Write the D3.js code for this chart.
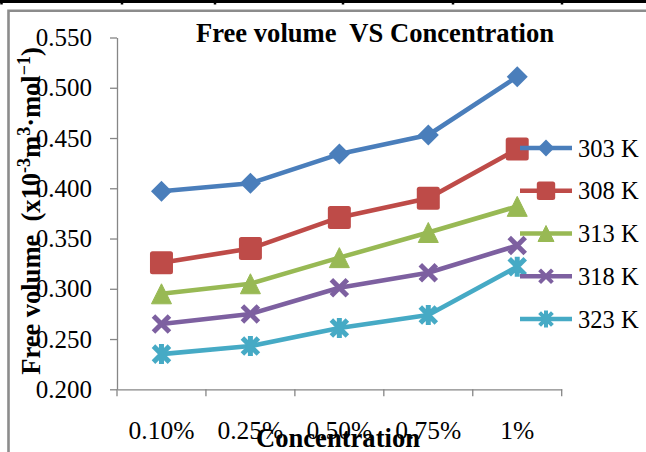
<!DOCTYPE html>
<html>
<head>
<meta charset="utf-8">
<script src="https://cdn.jsdelivr.net/npm/d3@7/dist/d3.min.js"></script>
<style>
  html, body { margin: 0; padding: 0; background: #fff; }
  svg { display: block; }
  text { font-family: "Liberation Serif", "Times New Roman", serif; fill: #000; }
</style>
</head>
<body>
<svg id="chart" width="646" height="452"></svg>
<script>
// Concentration categories and free volume (x10^-3 m^3 mol^-1) per temperature
const categories = ["0.10%", "0.25%", "0.50%", "0.75%", "1%"];
const seriesNames = ["303 K", "308 K", "313 K", "318 K", "323 K"];
const values303 = [0.397, 0.405, 0.434, 0.453, 0.511];
const values308 = [0.326, 0.340, 0.371, 0.390, 0.439];
const values313 = [0.295, 0.305, 0.331, 0.356, 0.382];
const values318 = [0.265, 0.275, 0.301, 0.316, 0.343];
const values323 = [0.235, 0.243, 0.261, 0.274, 0.322];
const yTicks = [0.200, 0.250, 0.300, 0.350, 0.400, 0.450, 0.500, 0.550];

const seriesValues = [values303, values308, values313, values318, values323];
const colors = ["#4a7ebb", "#be4b48", "#98b954", "#7d60a0", "#46aac5"];
const markerKinds = ["diamond", "square", "triangle", "cross", "star"];
const serif = "Liberation Serif, Times New Roman, serif";

const svg = d3.select("#chart");

// table rule above the chart
svg.append("line").attr("x1", 0).attr("x2", 646).attr("y1", 1.5).attr("y2", 1.5)
  .attr("stroke", "#000").attr("stroke-width", 3);
[1.5, 122, 215, 343, 453, 562].forEach(x => {
  svg.append("line").attr("x1", x).attr("x2", x).attr("y1", 0).attr("y2", 4.5)
    .attr("stroke", "#000").attr("stroke-width", 2.5);
});

// chart frame
svg.append("path").attr("d", "M8.5,460 L8.5,10.8 L660,10.8")
  .attr("fill", "none").attr("stroke", "#8c8c8c").attr("stroke-width", 2.6);

const x = d3.scaleBand().domain(categories).range([117, 561.7]);
const y = d3.scaleLinear().domain([0.2, 0.55]).range([389.3, 37.5]);
const cx = c => x(c) + x.bandwidth() / 2;

// y axis
const yAxis = svg.append("g").attr("transform", `translate(${x.range()[0]},0)`)
  .call(d3.axisLeft(y).tickValues(yTicks).tickFormat(d3.format(".3f"))
    .tickSize(7).tickSizeOuter(0).tickPadding(18));
yAxis.select(".domain").attr("stroke", "#868686").attr("stroke-width", 1.3);
yAxis.selectAll(".tick line").attr("stroke", "#868686").attr("stroke-width", 1.3);
yAxis.selectAll(".tick text").attr("font-size", 25).attr("font-family", serif);

// x axis: labels at category centres, ticks at category boundaries
const xAxis = svg.append("g").attr("transform", `translate(0,${y.range()[0]})`)
  .call(d3.axisBottom(x).tickSize(0).tickSizeOuter(0).tickPadding(0));
xAxis.select(".domain").attr("stroke", "#868686").attr("stroke-width", 1.3);
xAxis.selectAll(".tick text").attr("font-size", 25.5).attr("y", 50).attr("dy", 0)
  .attr("font-family", serif);
const boundaries = categories.map(c => x(c)).concat([x.range()[1]]);
xAxis.selectAll(".bound").data(boundaries).enter().append("line")
  .attr("x1", d => d).attr("x2", d => d).attr("y1", 0).attr("y2", 7)
  .attr("stroke", "#868686").attr("stroke-width", 1.3);

// marker shapes centred on the origin
function drawMarker(g, kind, color, s) {
  if (kind === "diamond") {
    const r = 10.5 * s;
    g.append("path").attr("d", `M0,${-r}L${r},0L0,${r}L${-r},0Z`).attr("fill", color);
  } else if (kind === "square") {
    const h = 11.5 * s;
    g.append("rect").attr("x", -h).attr("y", -h).attr("width", 2 * h).attr("height", 2 * h)
      .attr("rx", 2.5).attr("fill", color);
  } else if (kind === "triangle") {
    const w = 10 * s, h = 10 * s;
    g.append("path").attr("d", `M0,${-h}L${w},${h}L${-w},${h}Z`).attr("fill", color)
      .attr("stroke", color).attr("stroke-width", 1).attr("stroke-linejoin", "round");
  } else if (kind === "cross") {
    const r = 8 * s;
    g.append("path").attr("d", `M${-r},${-r}L${r},${r}M${r},${-r}L${-r},${r}`)
      .attr("stroke", color).attr("stroke-width", 5 * s).attr("fill", "none");
  } else if (kind === "star") {
    const r = 8 * s;
    g.append("path").attr("d", `M${-r},${-r}L${r},${r}M${r},${-r}L${-r},${r}M0,${-r - 2}L0,${r + 2}`)
      .attr("stroke", color).attr("stroke-width", 5 * s).attr("fill", "none");
  }
}

const line = d3.line().x((d, i) => cx(categories[i])).y(d => y(d));

seriesValues.forEach((vals, k) => {
  const g = svg.append("g");
  g.append("path").datum(vals).attr("d", line).attr("fill", "none")
    .attr("stroke", colors[k]).attr("stroke-width", 4.6).attr("stroke-linejoin", "round");
  vals.forEach((v, i) => {
    const m = g.append("g").attr("transform", `translate(${cx(categories[i])},${y(v)})`);
    drawMarker(m, markerKinds[k], colors[k], 1);
  });
});

// legend
const legendY = d3.scalePoint().domain(seriesNames).range([148, 319]);
seriesNames.forEach((name, k) => {
  const ly = legendY(name);
  svg.append("line").attr("x1", 520).attr("x2", 572).attr("y1", ly).attr("y2", ly)
    .attr("stroke", colors[k]).attr("stroke-width", 4.6);
  const m = svg.append("g").attr("transform", `translate(546,${ly})`);
  drawMarker(m, markerKinds[k], colors[k], 0.8);
  svg.append("text").attr("x", 578).attr("y", ly + 8.5).attr("font-size", 24.5).text(name);
});

// titles
svg.append("text").attr("x", 375).attr("y", 42).attr("text-anchor", "middle")
  .attr("font-size", 26.6).attr("font-weight", "bold").style("white-space", "pre")
  .text("Free volume  VS Concentration");

svg.append("text").attr("x", 338).attr("y", 447).attr("text-anchor", "middle")
  .attr("font-size", 26.6).attr("font-weight", "bold").text("Concentration");

const yTitle = svg.append("text").attr("transform", "translate(40,211) rotate(-90)")
  .attr("text-anchor", "middle").attr("font-size", 26.5).attr("font-weight", "bold")
  .style("white-space", "pre");
yTitle.append("tspan").text("Free volume  (x10");
yTitle.append("tspan").attr("dy", -10.5).attr("font-size", 18).text("-3");
yTitle.append("tspan").attr("dy", 10.5).text("m");
yTitle.append("tspan").attr("dy", -10.5).attr("font-size", 18).text("3");
yTitle.append("tspan").attr("dy", 10.5).text("·mol");
yTitle.append("tspan").attr("dy", -10.5).attr("font-size", 18).text("−1");
yTitle.append("tspan").attr("dy", 10.5).text(")");
</script>
</body>
</html>
